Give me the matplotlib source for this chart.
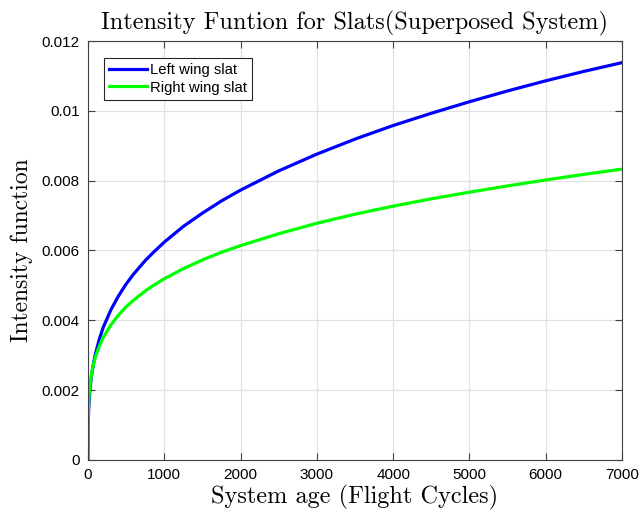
import matplotlib
matplotlib.use("Agg")
import matplotlib.pyplot as plt

# flight cycles
age = [0, 1, 2, 5, 10, 20, 30, 50, 75, 100, 150, 200, 300, 400, 500, 600, 750,
       850, 1000, 1250, 1500, 1750, 2000, 2500, 3000, 3500, 4000, 4500, 5000,
       5500, 6000, 6500, 7000]

# intensity readings (left / right wing slat)
left_slat = [0, 0.00074, 0.00091, 0.00121, 0.0015, 0.00186, 0.00211, 0.00247,
             0.0028, 0.00306, 0.00347, 0.0038, 0.0043, 0.0047, 0.00504, 0.00533,
             0.00571, 0.00593, 0.00624, 0.00669, 0.00707, 0.00742, 0.00773,
             0.00828, 0.00876, 0.00919, 0.00958, 0.00993, 0.01026, 0.01057,
             0.01086, 0.01113, 0.01138]
right_slat = [0, 0.00097, 0.00115, 0.00143, 0.0017, 0.00201, 0.00221, 0.00251,
              0.00277, 0.00297, 0.00327, 0.00351, 0.00387, 0.00415, 0.00439,
              0.00458, 0.00484, 0.00499, 0.00519, 0.00548, 0.00573, 0.00595,
              0.00614, 0.00648, 0.00678, 0.00704, 0.00727, 0.00748, 0.00767,
              0.00785, 0.00802, 0.00818, 0.00833]

x_ticks = [0, 1000, 2000, 3000, 4000, 5000, 6000, 7000]
y_ticks = [0, 0.002, 0.004, 0.006, 0.008, 0.01, 0.012]
y_tick_labels = ["0", "0.002", "0.004", "0.006", "0.008", "0.01", "0.012"]

plt.rcParams["font.family"] = ["Liberation Sans", "DejaVu Sans"]

fig = plt.figure(figsize=(6.39, 5.19), dpi=100)
ax = fig.add_axes([0.1377, 0.1137, 0.8357, 0.8073])

ax.plot(age, left_slat, color="#0000ff", lw=2.3, label="Left wing slat",
        solid_joinstyle="round")
ax.plot(age, right_slat, color="#00ff00", lw=2.3, label="Right wing slat",
        solid_joinstyle="round")

ax.set_xlim(0, 7000)
ax.set_ylim(0, 0.012)
ax.set_xticks(x_ticks)
ax.set_yticks(y_ticks)
ax.set_yticklabels(y_tick_labels)
ax.tick_params(direction="in", top=True, right=True, labelsize=11,
               length=5, width=0.8, color="#404040", pad=6)
for s in ax.spines.values():
    s.set_color("#404040")
    s.set_linewidth(0.8)
ax.grid(True, color="#e0e0e0", lw=0.9)
ax.set_axisbelow(True)

serif = dict(family="cmr10")
ax.set_title("Intensity Funtion for Slats(Superposed System)", fontsize=17.5, pad=8, **serif)
ax.set_xlabel("System age (Flight Cycles)", fontsize=17.5, labelpad=2, **serif)
ax.set_ylabel("Intensity function", fontsize=17, labelpad=6, **serif)

leg = ax.legend(loc="upper left", bbox_to_anchor=(0.0305, 0.96), borderaxespad=0,
                fontsize=10.7, fancybox=False, edgecolor="#262626", framealpha=1,
                handlelength=2.5, handletextpad=0.22, borderpad=0.35,
                labelspacing=0.25)
leg.get_frame().set_linewidth(0.8)

plt.savefig("out.png", dpi=100)
